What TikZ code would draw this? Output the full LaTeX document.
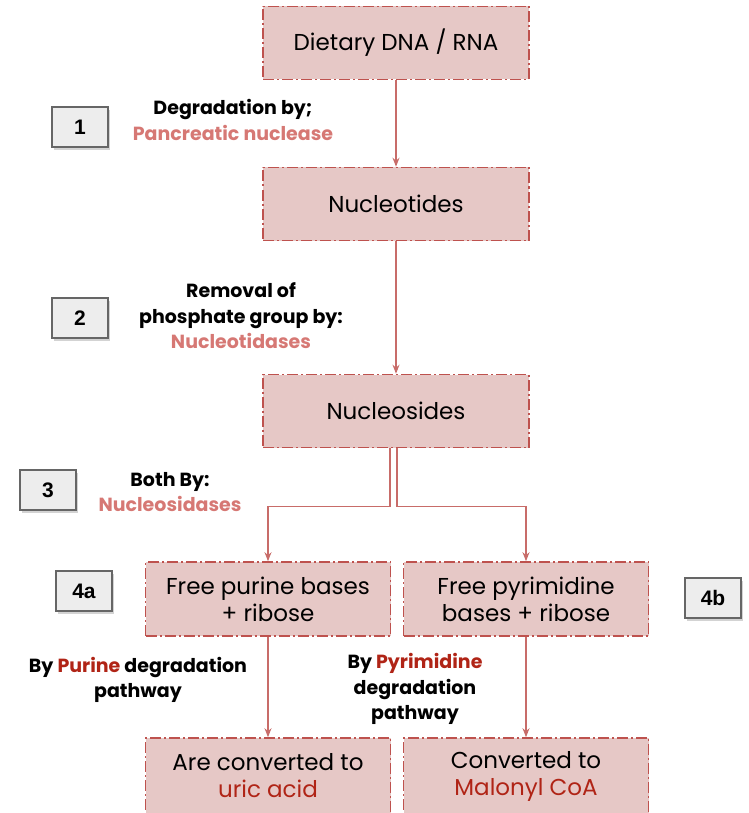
\documentclass[tikz,border=0pt]{standalone}
\usepackage{fontspec}
\setmainfont{Poppins}
\newfontfamily\numfont{Liberation Sans}
\usetikzlibrary{arrows.meta,positioning,shadows}
\definecolor{boxfill}{RGB}{230,200,198}
\definecolor{boxline}{RGB}{190,82,78}
\definecolor{enzred}{RGB}{214,120,116}
\definecolor{darkred}{RGB}{176,36,22}
\tikzset{
  stage/.style={
      rectangle,
      minimum width=266pt,
      minimum height=73pt,
      align=center,
      line width=1.6pt,
      draw=boxline,
      fill=boxfill,
      dash pattern=on 11pt off 3pt on 2pt off 3pt,
      font=\fontsize{23}{27}\selectfont
  },
  stepno/.style={
      rectangle,
      minimum width=56pt,
      minimum height=40pt,
      line width=1.3pt,
      draw=black!60,
      fill=black!7,
      drop shadow={shadow xshift=2pt,shadow yshift=-3pt,opacity=.35},
      font=\numfont\bfseries\fontsize{21}{22}\selectfont
  },
  note/.style={
      align=center,
      font=\bfseries\fontsize{19}{25.5}\selectfont
  },
  conn/.style={
      draw=boxline!85,
      line width=1.3pt,
      -{Stealth[length=9pt,width=7pt]}
  }
}

\begin{document}
\begin{tikzpicture}[x=1pt,y=-1pt]
    \useasboundingbox (0,0) rectangle (748,813);
    % main chain
    \node[stage] (dietary) at (396,43) {Dietary DNA / RNA};
    \node[stage] (nucleotides) at (396,204) {Nucleotides};
    \node[stage] (nucleosides) at (396,411) {Nucleosides};
    \node[stage,minimum width=245pt,minimum height=74pt] (purine) at (268,599) {Free purine bases\\+ ribose};
    \node[stage,minimum width=245pt,minimum height=74pt] (pyrimidine) at (526,599) {Free pyrimidine\\bases + ribose};
    \node[stage,minimum width=245pt,minimum height=76pt] (uric) at (268,776) {Are converted to\\\textcolor{darkred}{uric acid}};
    \node[stage,minimum width=245pt,minimum height=76pt] (malonyl) at (526,776) {Converted to\\\textcolor{darkred}{Malonyl CoA}};
    % step numbers
    \node[stepno] (s1) at (80,127) {1};
    \node[stepno] (s2) at (80,318) {2};
    \node[stepno] (s3) at (48,490) {3};
    \node[stepno] (s4a) at (84,591) {4a};
    \node[stepno] (s4b) at (713,598) {4b};
    % enzymes
    \node[note] (n1) at (233,120) {Degradation by;\\\textcolor{enzred}{Pancreatic nuclease}};
    \node[note] (n2) at (241,316) {Removal of\\phosphate group by:\\\textcolor{enzred}{Nucleotidases}};
    \node[note] (n3) at (170,492) {Both By:\\\textcolor{enzred}{Nucleosidases}};
    \node[note] (n4a) at (138,680) {By \textcolor{darkred}{Purine} degradation\\pathway};
    \node[note] (n4b) at (415,689) {By \textcolor{darkred}{Pyrimidine}\\degradation\\pathway};
    % arrows
    \draw[conn] (dietary) -- (nucleotides);
    \draw[conn] (nucleotides) -- (nucleosides);
    \draw[conn] ([xshift=-6pt]nucleosides.south) -- ++(0,58) -| (purine.north);
    \draw[conn] ([xshift=1pt]nucleosides.south) -- ++(0,58) -| (pyrimidine.north);
    \draw[conn] (purine) -- (uric);
    \draw[conn] (pyrimidine) -- (malonyl);
\end{tikzpicture}
\end{document}
